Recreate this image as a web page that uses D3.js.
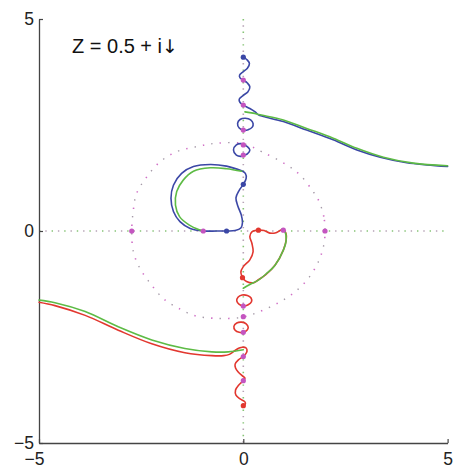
<!DOCTYPE html>
<html>
<head>
<meta charset="utf-8">
<script src="https://cdn.jsdelivr.net/npm/d3@7"></script>
<style>
  html, body { margin: 0; padding: 0; background: #fff; }
  svg { display: block; }
</style>
</head>
<body>
<svg id="chart" width="453" height="469"></svg>
<script>
// ---------- data ----------
const xTicks = [-5, 0, 5];
const yTicks = [-5, 0, 5];
const titleMain = "Z = 0.5 + i";
const titleArrow = "\u2193";

const blueWiggleTail = [[0,4.10],[0.10,4.03],[0.15,3.95],[0.10,3.84],[0,3.76],[-0.09,3.68],[-0.08,3.61],[0,3.56],[0.10,3.49],[0.16,3.40],[0.11,3.28],[0,3.20],[-0.10,3.11],[-0.08,3.03],[0,2.97],[0.16,2.89],[0.29,2.81],[0.37,2.74],[0.49,2.70],[0.98,2.58],[1.55,2.38],[2.20,2.15],[2.78,1.91],[3.35,1.74],[4.00,1.61],[4.49,1.56],[5.0,1.52]];
const blueLoop1 = [[0,2.38],[0.12,2.39],[0.22,2.45],[0.24,2.53],[0.18,2.62],[0.05,2.66],[-0.08,2.63],[-0.14,2.54],[-0.1,2.43]];
const blueLoop2 = [[0,2.04],[0.1,1.99],[0.16,1.91],[0.1,1.82],[0,1.78],[-0.05,1.76],[-0.17,1.79],[-0.24,1.91],[-0.17,2.03],[-0.05,2.06]];
const blueC = [[-0.04,1.42],[-0.41,1.53],[-0.81,1.57],[-1.22,1.52],[-1.51,1.36],[-1.71,1.08],[-1.77,0.77],[-1.71,0.46],[-1.55,0.22],[-1.30,0.06],[-0.98,0.0],[-0.65,0.0],[-0.41,0.0],[-0.2,0.01],[-0.06,0.07],[-0.02,0.2],[-0.05,0.38],[-0.13,0.58],[-0.18,0.78],[-0.1,0.96],[0,1.10],[0.07,1.24],[0.05,1.36],[-0.04,1.42]];

const redWiggleTail = [[-5,-1.68],[-4.61,-1.76],[-3.87,-1.99],[-3.06,-2.34],[-2.24,-2.66],[-1.43,-2.87],[-0.77,-2.94],[-0.48,-2.94],[-0.34,-2.91],[-0.22,-2.83],[-0.1,-2.76],[-0.02,-2.74],[0.07,-2.76],[0.09,-2.84],[0.05,-2.91],[0,-2.96],[-0.12,-3.04],[-0.20,-3.14],[-0.19,-3.23],[-0.12,-3.33],[-0.03,-3.41],[0.04,-3.47],[0,-3.53],[-0.11,-3.63],[-0.19,-3.75],[-0.18,-3.87],[-0.08,-3.96],[0.04,-4.03],[0.05,-4.08],[0,-4.12]];
const redLoop1 = [[0,-1.77],[0.12,-1.74],[0.2,-1.67],[0.19,-1.58],[0.1,-1.52],[-0.03,-1.51],[-0.13,-1.56],[-0.16,-1.65],[-0.1,-1.73]];
const redLoop2 = [[0,-2.39],[0.09,-2.34],[0.12,-2.27],[0.07,-2.19],[-0.04,-2.15],[-0.16,-2.17],[-0.23,-2.25],[-0.2,-2.34],[-0.1,-2.39]];
const redShape = [[-0.02,-1.10],[-0.06,-0.97],[0,-0.84],[0.16,-0.68],[0.24,-0.49],[0.21,-0.29],[0.16,-0.13],[0.21,-0.02],[0.37,0.02],[0.51,0.01],[0.65,-0.05],[0.80,-0.04],[0.92,0.02],[0.98,0.02],[1.04,-0.04],[1.05,-0.21],[0.98,-0.45],[0.78,-0.80],[0.55,-1.03],[0.37,-1.15],[0.26,-1.22],[0.08,-1.19],[-0.02,-1.10]];

const greenUpperTail = [[0.04,2.81],[0.24,2.78],[0.41,2.74],[0.98,2.62],[1.55,2.42],[2.20,2.19],[2.78,1.95],[3.43,1.74],[4.16,1.60],[5.0,1.54]];
const greenC = [[-0.04,1.41],[-0.41,1.47],[-0.81,1.49],[-1.22,1.41],[-1.47,1.20],[-1.63,0.93],[-1.66,0.61],[-1.56,0.34],[-1.32,0.14],[-1.08,0.03],[-0.98,0.0]];
const greenLowerShape = [[0.94,0.04],[1.02,-0.02],[1.05,-0.21],[0.98,-0.45],[0.78,-0.80],[0.55,-1.02],[0.37,-1.16],[0.16,-1.26],[0,-1.35]];
const greenLowerTail = [[-5,-1.63],[-4.61,-1.69],[-3.87,-1.90],[-3.06,-2.26],[-2.24,-2.57],[-1.43,-2.77],[-0.77,-2.85],[-0.37,-2.85],[0,-2.80]];

const guideCurve = [[2.0,0],[1.97,0.34],[1.84,0.73],[1.71,0.93],[1.39,1.32],[1.06,1.56],[0.45,1.87],[0,2.06],[-0.65,2.07],[-1.14,1.99],[-1.63,1.87],[-2.04,1.63],[-2.36,1.28],[-2.61,0.89],[-2.69,0.50],[-2.73,0],[-2.69,-0.49],[-2.53,-0.88],[-2.28,-1.23],[-1.96,-1.59],[-1.59,-1.82],[-1.18,-2.0],[-0.65,-2.06],[0,-2.03],[0.45,-1.88],[0.90,-1.67],[1.27,-1.43],[1.59,-1.12],[1.84,-0.72],[1.97,-0.33]];

const magentaPts = [[0,3.56],[0,2.97],[0,2.38],[0,2.03],[0,1.79],[-0.98,0],[0.98,0.02],[-2.73,0],[2.0,0],[0,-1.77],[0,-2.02],[0,-2.39],[0,-2.96],[0,-3.53]];
const bluePts = [[0,4.10],[0,1.10],[-0.41,0]];
const redPts = [[0.37,0.02],[-0.02,-1.10],[0,-4.12]];

// ---------- chart ----------
const svg = d3.select("#chart");
const x = d3.scaleLinear().domain([-5, 5]).range([39, 447.6]);
const y = d3.scaleLinear().domain([-5, 5]).range([443, 19]);

const BLUE = "#3b47a6", RED = "#e2372f", GREEN = "#5dbb45", MAG = "#c455c0";
const FONT = "'Liberation Sans', Arial, Helvetica, sans-serif";

// dotted reference axes
function dotted(g, x1, y1, x2, y2, color, offset) {
  g.append("line").attr("x1", x1).attr("y1", y1).attr("x2", x2).attr("y2", y2)
    .attr("stroke", color).attr("stroke-width", 1.6)
    .attr("stroke-dasharray", "1.4 11.2").attr("stroke-dashoffset", offset);
}
const guides = svg.append("g");
dotted(guides, x(-5), y(0), x(5), y(0), "#86c476", 0);
dotted(guides, x(-5), y(0), x(5), y(0), "#b7a3b6", -6.3);
dotted(guides, x(0), y(5), x(0), y(-5), "#86c476", 0);
dotted(guides, x(0), y(5), x(0), y(-5), "#b7a3b6", -6.3);

const closedLine = d3.line().x(d => x(d[0])).y(d => y(d[1])).curve(d3.curveCatmullRomClosed.alpha(0.5));
guides.append("path").attr("d", closedLine(guideCurve)).attr("fill", "none")
  .attr("stroke", "#d070c6").attr("stroke-width", 1.6).attr("stroke-dasharray", "1.4 15.6");
guides.append("path").attr("d", closedLine(guideCurve)).attr("fill", "none")
  .attr("stroke", "#a59aa8").attr("stroke-width", 1.4).attr("stroke-dasharray", "1.4 15.6").attr("stroke-dashoffset", -8.5);

// axes
const axL = d3.axisLeft(y).tickValues(yTicks).tickSizeInner(-4).tickSizeOuter(0).tickPadding(5);
const axB = d3.axisBottom(x).tickValues(xTicks).tickSizeInner(-4).tickSizeOuter(0).tickPadding(10);
const gL = svg.append("g").attr("transform", `translate(${x(-5)},0)`).call(axL);
const gB = svg.append("g").attr("transform", `translate(0,${y(-5)})`).call(axB);
[gL, gB].forEach(g => {
  g.select(".domain").attr("stroke", "#444").attr("stroke-width", 1.3);
  g.selectAll(".tick line").attr("stroke", "#444").attr("stroke-width", 1.2);
  g.selectAll(".tick text").attr("fill", "#222").style("font-size", "17.5px").style("font-family", FONT);
});
gB.selectAll(".tick text").attr("text-anchor", "end").attr("x", 4.9);

// curves
const openLine = d3.line().x(d => x(d[0])).y(d => y(d[1])).curve(d3.curveCatmullRom.alpha(0.5));
const curves = svg.append("g").attr("fill", "none").attr("stroke-width", 1.6)
  .attr("stroke-linejoin", "round").attr("stroke-linecap", "round");
[[blueWiggleTail, BLUE, false], [blueLoop1, BLUE, true], [blueLoop2, BLUE, true], [blueC, BLUE, false],
 [redWiggleTail, RED, false], [redLoop1, RED, true], [redLoop2, RED, true], [redShape, RED, false],
 [greenUpperTail, GREEN, false], [greenC, GREEN, false], [greenLowerShape, GREEN, false], [greenLowerTail, GREEN, false]]
  .forEach(([pts, col, closed]) => {
    curves.append("path").attr("d", closed ? closedLine(pts) : openLine(pts)).attr("stroke", col);
  });

// markers
const mk = svg.append("g");
[[magentaPts, MAG], [bluePts, BLUE], [redPts, RED]].forEach(([pts, col]) => {
  mk.selectAll(null).data(pts).join("circle")
    .attr("cx", d => x(d[0])).attr("cy", d => y(d[1])).attr("r", 2.6).attr("fill", col);
});

// title
const t = svg.append("text").attr("x", 72).attr("y", 52.5).attr("fill", "#111")
  .style("font-family", FONT).style("font-size", "20px");
t.append("tspan").text(titleMain);
t.append("tspan").style("font-family", "'DejaVu Sans', sans-serif").style("font-size", "19px").text(titleArrow);
</script>
</body>
</html>
